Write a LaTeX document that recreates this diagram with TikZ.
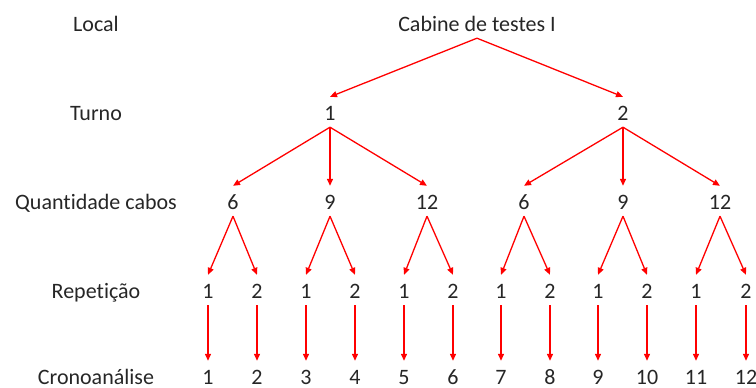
\documentclass[tikz,border=0pt]{standalone}
\usepackage{fontspec}
\setmainfont[Ligatures=NoCommon]{Carlito}
\usetikzlibrary{arrows.meta}
\begin{document}
\begin{tikzpicture}[x=1pt,y=-1pt,
  every node/.style={font=\fontsize{22}{26}\selectfont, text=black!85},
  lbl/.style={anchor=base, inner sep=0pt},
  val/.style={anchor=base, inner sep=0pt, text height=23pt, text depth=7pt},
  leaf/.style={anchor=base, inner sep=0pt, text height=23pt, text depth=0pt},
  arr/.style={draw=red, line width=1.3pt, -{Triangle[length=7pt,width=6pt]}}]
\useasboundingbox (0,0) rectangle (756,388);

% row captions
\node[lbl] (lLocal) at (96,31) {Local};
\node[lbl] (lTurno) at (96,120) {Turno};
\node[lbl] (lQtd)   at (96,209) {Quantidade cabos};
\node[lbl] (lRep)   at (96,298) {Repetição};
\node[lbl] (lCrono) at (96,384) {Cronoanálise};

% tree
\node[val] (root) at (477,31) {Cabine de testes I};
\node[val] (t1) at (330,120) {1};
\node[val] (t2) at (623,120) {2};

\foreach \i/\x/\v in {1/233/6, 2/330/9, 3/427/12, 4/524/6, 5/623/9, 6/720/12}
  \node[val] (q\i) at (\x,209) {\v};

\foreach \i/\x/\v in {1/208/1, 2/257/2, 3/306/1, 4/355/2, 5/404/1, 6/453/2,
                      7/501/1, 8/550/2, 9/598/1, 10/647/2, 11/696/1, 12/746/2}
  \node[val] (r\i) at (\x,298) {\v};

\foreach \i/\x in {1/208, 2/257, 3/306, 4/355, 5/404, 6/453,
                   7/501, 8/550, 9/598, 10/647, 11/696, 12/746}
  \node[leaf] (c\i) at (\x,384) {\i};

% connectors
\draw[arr] (root.south) -- (t1.north);
\draw[arr] (root.south) -- (t2.north);
\foreach \q in {1,2,3} \draw[arr] (t1.south) -- (q\q.north);
\foreach \q in {4,5,6} \draw[arr] (t2.south) -- (q\q.north);
\foreach \q [evaluate=\q as \a using int(2*\q-1), evaluate=\q as \b using int(2*\q)] in {1,...,6} {
  \draw[arr] (q\q.south) -- (r\a.north);
  \draw[arr] (q\q.south) -- (r\b.north);
}
\foreach \r in {1,...,12} \draw[arr] (r\r.south) -- (c\r.north);
\end{tikzpicture}
\end{document}
